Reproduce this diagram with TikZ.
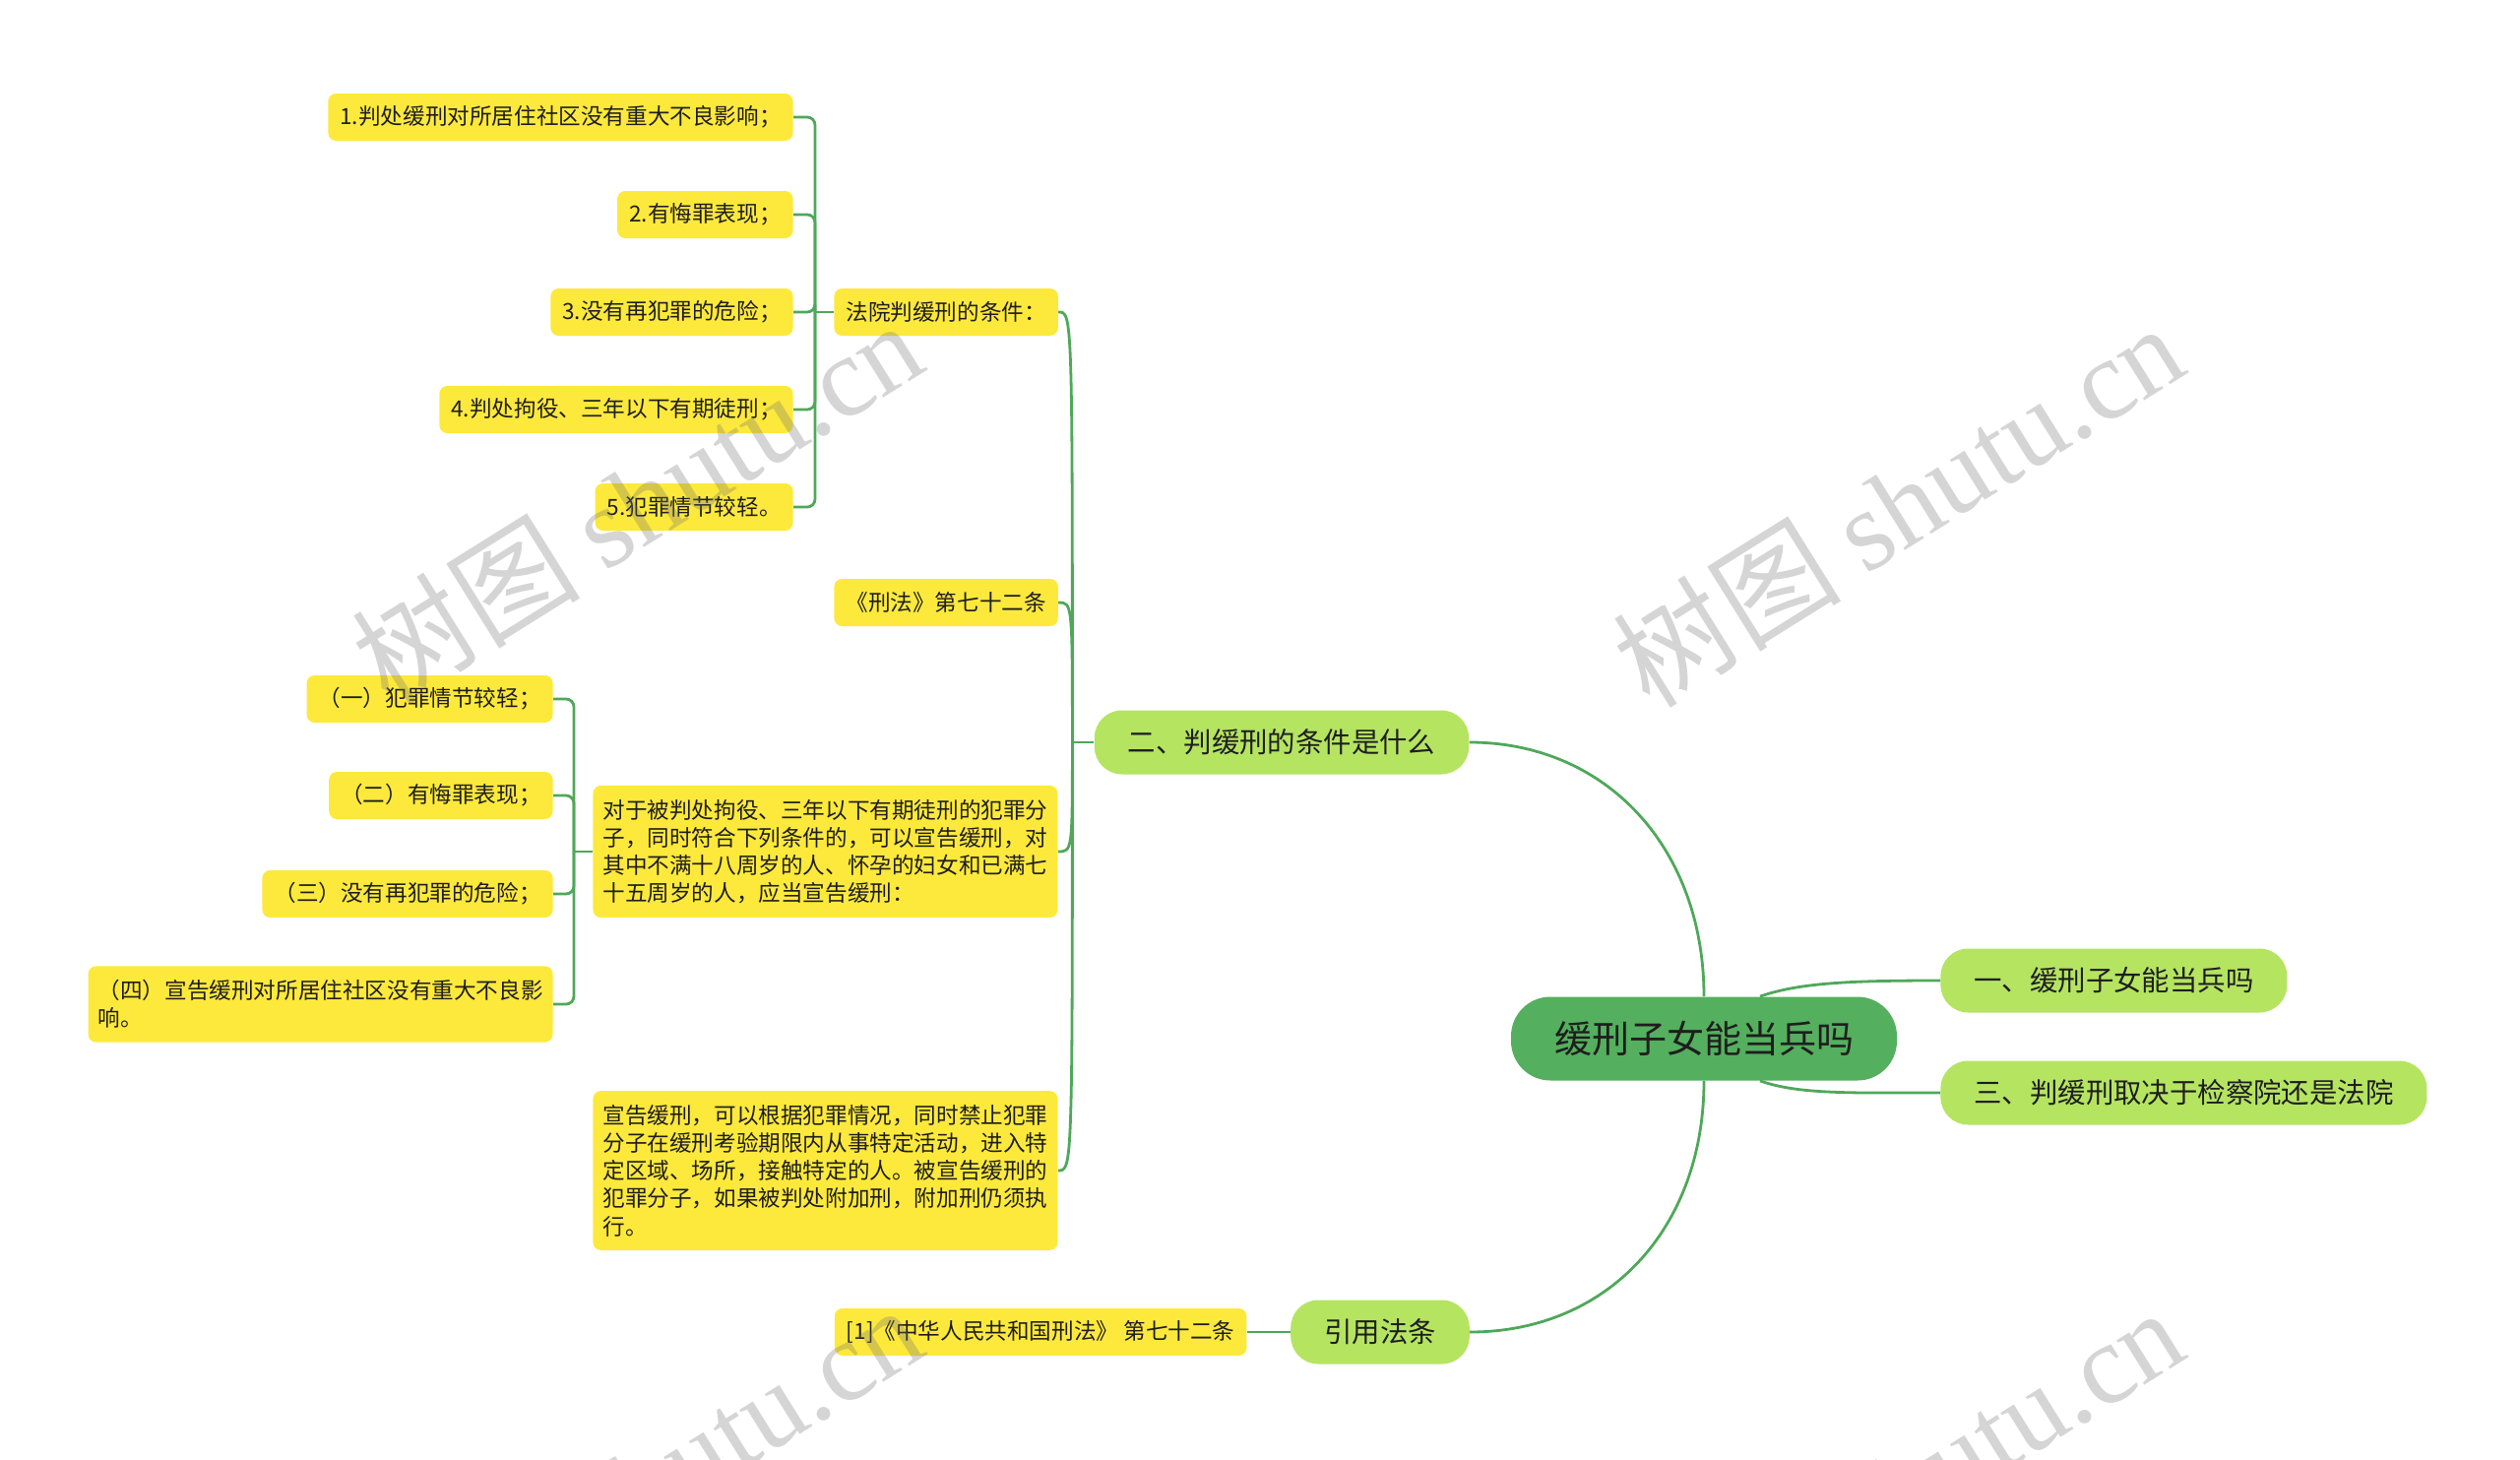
\documentclass[tikz,border=0pt]{standalone}
\usepackage{fontspec}
\setmainfont{Noto Sans CJK SC}
\newfontfamily\wmserif{Liberation Serif}
\usepackage{xcolor}
\definecolor{mapyellow}{HTML}{FDE93B}
\definecolor{maplime}{HTML}{B5E461}
\definecolor{maproot}{HTML}{54AF5E}
\definecolor{mapline}{HTML}{4FA85A}
\definecolor{maptext}{HTML}{1E1E1E}
\usetikzlibrary{positioning, calc}

\begin{document}
\begin{tikzpicture}[x=0.5pt, y=-0.5pt,
  leaf/.style={rectangle, rounded corners=4pt, fill=mapyellow, text=maptext,
    font=\fontsize{11.3}{14.1}\selectfont, inner xsep=6pt, inner ysep=0pt,
    minimum height=24pt, align=left},
  note/.style={leaf, inner xsep=5pt, inner ysep=7pt},
  topic/.style={rectangle, rounded corners=14pt, fill=maplime, text=maptext,
    font=\fontsize{14.2}{17}\selectfont, inner xsep=17pt, minimum height=32.5pt},
  central/.style={rectangle, rounded corners=20pt, fill=maproot, text=maptext,
    font=\fontsize{19}{22}\selectfont, inner xsep=22pt, minimum height=42.5pt},
  link/.style={draw=mapline, line width=1.4pt},
  elbow/.style={link, rounded corners=4pt},
  watermark/.style={text=black!55, text opacity=0.3, rotate=32,
    font=\fontsize{58}{58}\selectfont}
]
\useasboundingbox (0,0) rectangle (2560,1483);

% centre and main topics
\node[central] (root) at (1731,1055) {缓刑子女能当兵吗};
\node[topic, anchor=west] (yi) at (1971,996) {一、缓刑子女能当兵吗};
\node[topic, anchor=west] (san) at (1971,1110) {三、判缓刑取决于检察院还是法院};
\node[topic] (er) at (1302,754) {二、判缓刑的条件是什么};
\node[topic] (yinyong) at (1402,1353) {引用法条};
\node[leaf, left=22pt of yinyong] (fatiao) {[1]《中华人民共和国刑法》 第七十二条};

% second level under er
\node[leaf, anchor=west] (tiaojian) at (847,317) {法院判缓刑的条件：};
\node[leaf, anchor=west] (xingfa) at (847,612) {《刑法》第七十二条};
\node[note, anchor=west] (duiyu) at (602,865)
  {对于被判处拘役、三年以下有期徒刑的犯罪分\\
   子，同时符合下列条件的，可以宣告缓刑，对\\
   其中不满十八周岁的人、怀孕的妇女和已满七\\
   十五周岁的人，应当宣告缓刑：};
\node[note, anchor=west] (xuangao) at (602,1189)
  {宣告缓刑，可以根据犯罪情况，同时禁止犯罪\\
   分子在缓刑考验期限内从事特定活动，进入特\\
   定区域、场所，接触特定的人。被宣告缓刑的\\
   犯罪分子，如果被判处附加刑，附加刑仍须执\\
   行。};

% conditions
\foreach \txt [count=\i] in {1.判处缓刑对所居住社区没有重大不良影响；,
    2.有悔罪表现；, 3.没有再犯罪的危险；, 4.判处拘役、三年以下有期徒刑；,
    5.犯罪情节较轻。}
  \node[leaf, anchor=east] (t\i) at (806,20+99*\i) {\txt};

\node[leaf, anchor=east] (d1) at (562,710) {（一）犯罪情节较轻；};
\node[leaf, anchor=east] (d2) at (562,808) {（二）有悔罪表现；};
\node[leaf, anchor=east] (d3) at (562,908) {（三）没有再犯罪的危险；};
\node[note, anchor=east] (d4) at (562,1020)
  {（四）宣告缓刑对所居住社区没有重大不良影\\响。};

% connectors
\draw[link] (root.north) .. controls +(0,-150) and +(140,0) .. (er.east);
\draw[link] (root.south) .. controls +(0,150) and +(140,0) .. (yinyong.east);
\draw[link] ([xshift=28.5pt]root.north) .. controls +(40,-14) and +(-90,0) .. (yi.west);
\draw[link] ([xshift=28.5pt]root.south) .. controls +(40,14) and +(-90,0) .. (san.west);
\draw[link] (yinyong.west) -- (fatiao.east);

\coordinate (erhub) at ($(er.west)+(-22,0)$);
\draw[link] (er.west) -- (erhub);
\foreach \c in {tiaojian, xingfa, duiyu, xuangao}
  \draw[link] (\c.east) .. controls (\c.east -| erhub) .. (erhub);

\coordinate (tjhub) at ($(tiaojian.west)+(-19,0)$);
\draw[link] (tiaojian.west) -- (tjhub);
\foreach \i in {1,...,5}
  \draw[elbow] (t\i.east) -| (tjhub);

\coordinate (dyhub) at ($(duiyu.west)+(-19,0)$);
\draw[link] (duiyu.west) -- (dyhub);
\foreach \i in {1,...,4}
  \draw[elbow] (d\i.east) -| (dyhub);

% watermarks
\foreach \wx/\wy [count=\k] in {647/509, 1928/512, 647/1509, 1928/1512}
  \node[watermark] (wm\k) at (\wx,\wy) {树图 {\wmserif shutu.cn}};
\end{tikzpicture}
\end{document}
